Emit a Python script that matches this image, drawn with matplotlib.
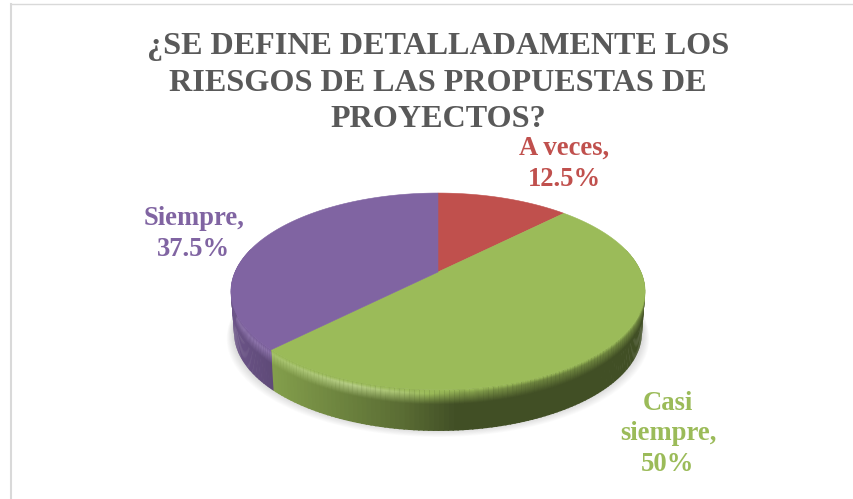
import numpy as np
import matplotlib
matplotlib.use("Agg")
import matplotlib.pyplot as plt
from matplotlib.patches import Polygon
from matplotlib.lines import Line2D
from matplotlib.colors import to_rgb

title = "¿SE DEFINE DETALLADAMENTE LOS\nRIESGOS DE LAS PROPUESTAS DE\nPROYECTOS?"
labels = ["A veces,\n12.5%", "Casi\nsiempre,\n50%", "Siempre,\n37.5%"]
values = [12.5, 50, 37.5]
colors = ["#c0504d", "#9bbb59", "#8064a2"]
label_xy = [(564, 164), (668, 434), (194, 234)]

plt.rcParams["font.family"] = "Liberation Serif"
fig = plt.figure(figsize=(8.54, 4.99), dpi=100)
ax = fig.add_axes([0, 0, 1, 1])
ax.set_xlim(0, 854)
ax.set_ylim(499, 0)
ax.axis("off")

# perspective of the pie, apex of the wedges sits above the middle of the ellipse
cx, cy = 438, 272
a, b, k = 203, 94.6, 0.198
depth = 41

def proj(theta):
    w = 1 + k * np.cos(theta)
    return cx + a * np.sin(theta) / w, cy - b * np.cos(theta) / w

def shade(col, f):
    c = np.array(to_rgb(col))
    return c * f if f < 1 else c + (1 - c) * (f - 1)

# soft shadow under the pie
t = np.linspace(0, 2 * np.pi, 200)
sx, sy = proj(t)
for i in range(10, 0, -1):
    ax.add_patch(Polygon(np.c_[cx + (sx - cx) * (0.985 + i * 0.0035), sy + depth - 2 + i * 0.8],
                         fc="#000000", alpha=0.014, lw=0, zorder=1))

# wall with the rounded rim on top of it, only the front half shows
edges = np.radians(np.cumsum([0] + values) / 100 * 360)
rim = np.linspace(0, 0.4, 17)
for i in range(len(values)):
    ts = np.linspace(edges[i], edges[i + 1], 160)
    for j in range(len(ts) - 1):
        if np.cos((ts[j] + ts[j + 1]) / 2) > 0.25:
            continue
        x0, y0 = proj(ts[j])
        x1, y1 = proj(ts[j + 1] + 0.006)
        u = (x0 - 231) / 414
        # wall gets darker going right, highlight fades the same way
        if i == 1:
            f = np.interp(u, [0.1, 0.25, 0.42, 0.55, 0.7, 1], [0.85, 0.72, 0.58, 0.42, 0.42, 0.42])
            h = np.interp(u, [0.1, 0.3, 0.42, 0.55, 0.75, 1], [1.12, 1.28, 1.15, 0.85, 0.7, 0.75])
        else:
            f = np.interp(u, [0, 0.1], [0.84, 0.74])
            h = 1.12
        top = np.array(to_rgb(colors[i]))
        lit = shade(colors[i], h)
        wall = shade(colors[i], f)
        # plain wall first, then thin layers of the rim over it
        n = 1 - 0.015
        ax.add_patch(Polygon([(x0, y0), (x1, y1),
                              (cx + (x1 - cx) * n, y1 + depth), (cx + (x0 - cx) * n, y0 + depth)],
                             fc=wall, ec="none", lw=0, zorder=2))
        for s in range(len(rim) - 1):
            m = rim[s]
            c = [np.interp(m, [0, 0.08, 0.34], [top[q], lit[q], wall[q]]) for q in range(3)]
            ya, yb = m * depth, rim[s + 1] * depth + 0.5
            n0, n1 = 1 - m * 0.015, 1 - rim[s + 1] * 0.015
            ax.add_patch(Polygon([(cx + (x0 - cx) * n0, y0 + ya), (cx + (x1 - cx) * n0, y1 + ya),
                                  (cx + (x1 - cx) * n1, y1 + yb), (cx + (x0 - cx) * n1, y0 + yb)],
                                 fc=c, ec="none", lw=0, zorder=2))

# top face
for i in range(len(values)):
    ts = np.linspace(edges[i], edges[i + 1], 150)
    px, py = proj(ts)
    pts = np.r_[[(cx, cy)], np.c_[px, py]]
    ax.add_patch(Polygon(pts, fc=colors[i], ec=colors[i], lw=0.4, zorder=3))

# frame, only left and top edges are in the crop
ax.add_line(Line2D([11, 11], [499, 4], color="#d9d9d9", lw=1.5, zorder=0))
ax.add_line(Line2D([11, 854], [3.5, 3.5], color="#d9d9d9", lw=1, zorder=0))

ax.text(438, 83, title, ha="center", va="center", fontsize=23.1, fontweight="bold",
        color="#595959", linespacing=1.33, zorder=5)
for i in range(len(values)):
    ax.text(label_xy[i][0], label_xy[i][1], labels[i], ha="center", va="center", fontsize=19.2,
            fontweight="bold", color=colors[i], linespacing=1.3, zorder=5)

fig.savefig("out.png", dpi=100)
